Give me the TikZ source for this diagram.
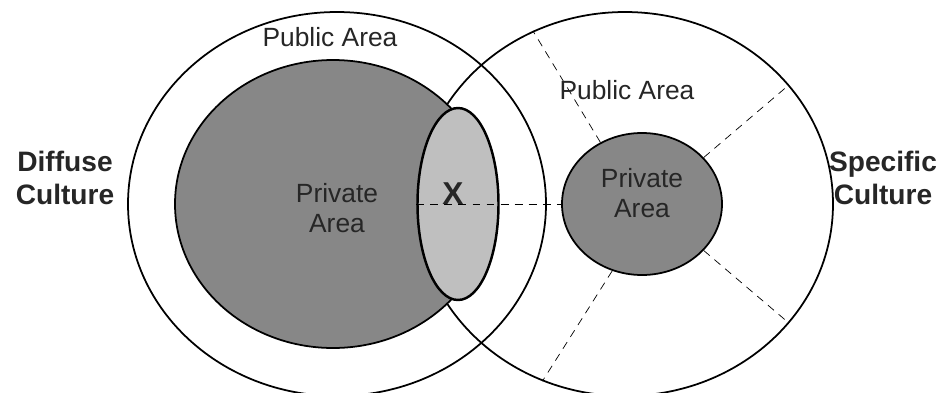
\documentclass[tikz,border=0pt]{standalone}
\usepackage{fontspec}
\setmainfont{Liberation Sans}
\usetikzlibrary{shapes.geometric}
\definecolor{privgray}{gray}{0.53}
\definecolor{lensgray}{gray}{0.75}

\begin{document}
\begin{tikzpicture}[
    area/.style={ellipse, draw, line width=1pt, inner sep=0pt},
    lbl/.style={text=black!85, font=\fontsize{15}{17}\selectfont, align=center},
    big/.style={text=black!85, font=\fontsize{16}{18.7}\selectfont\bfseries, align=center},
    split/.style={thin, dash pattern=on 4.5pt off 3.5pt}
  ]
  \useasboundingbox (0,0) rectangle (18.9,7.84);
  % public areas
  \node[area, minimum width=8.36cm, minimum height=7.68cm] (pubL) at (6.74,3.76) {};
  \node[area, minimum width=8.32cm, minimum height=7.68cm] (pubR) at (12.5,3.76) {};
  % private areas
  \node[area, fill=privgray, minimum width=6.32cm, minimum height=5.76cm] (privL) at (6.66,3.76) {};
  \node[area, fill=privgray, minimum width=3.2cm, minimum height=2.84cm] (privR) at (12.84,3.76) {};
  % overlap of the two
  \node[area, fill=lensgray, line width=1.4pt, minimum width=1.62cm, minimum height=3.84cm] (lens) at (9.16,3.76) {};
  % dashed splits
  \draw[split, line width=0.5pt] (lens.west) -- (privR.west);
  \draw[split] (privR.124) -- (pubR.118);
  \draw[split] (privR.37) -- (pubR.36);
  \draw[split] (privR.-37) -- (pubR.-36);
  \draw[split] (privR.-114) -- (pubR.-115);
  % labels
  \node[lbl] (pubLt) at (6.6,7.1) {Public Area};
  \node[lbl] (pubRt) at (12.54,6.04) {Public Area};
  \node[lbl] (privLt) at (6.74,3.68) {Private\\Area};
  \node[lbl] (privRt) at (12.84,3.98) {Private\\Area};
  \node[lbl, font=\fontsize{18}{20}\selectfont\bfseries] (x) at (9.06,3.96) {X};
  \node[big] (diff) at (1.3,4.28) {Diffuse\\Culture};
  \node[big] (spec) at (17.66,4.28) {Specific\\Culture};
\end{tikzpicture}
\end{document}
